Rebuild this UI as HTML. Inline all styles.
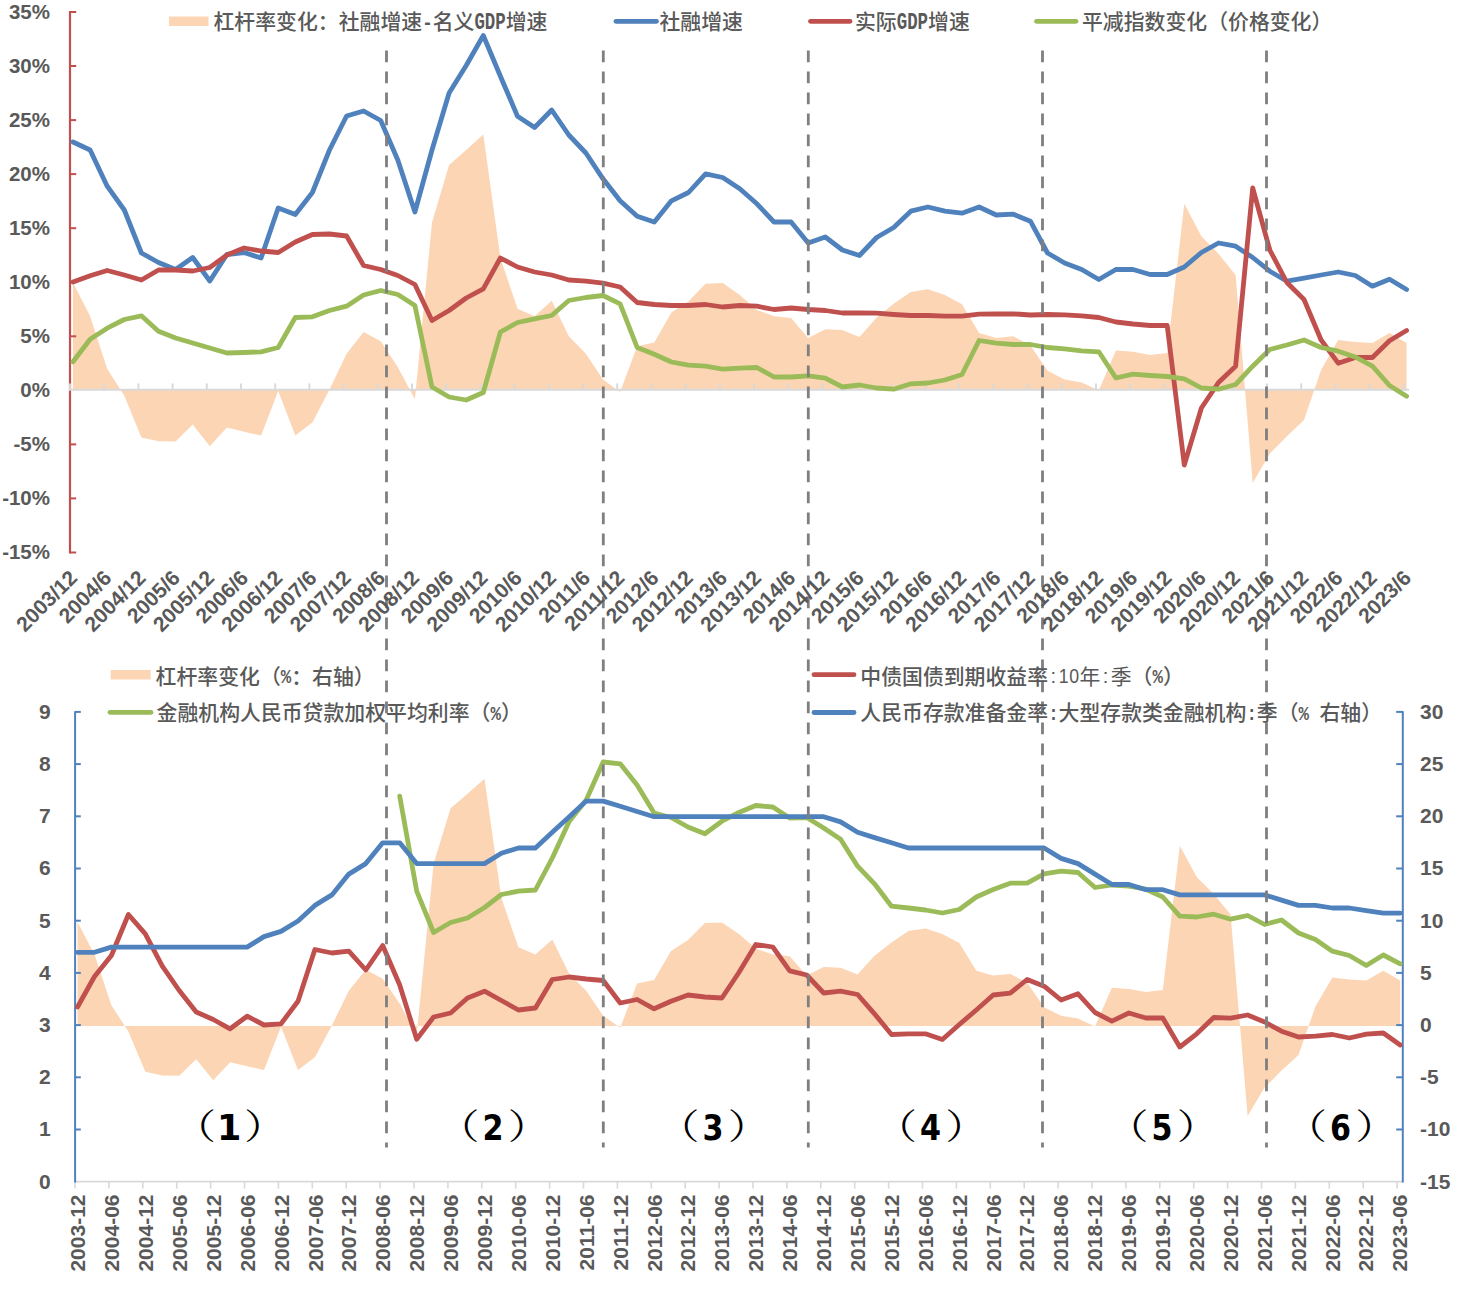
<!DOCTYPE html><html><head><meta charset="utf-8"><title>chart</title><style>html,body{margin:0;padding:0;background:#fff}svg{display:block}.n{font-family:"Liberation Sans",sans-serif;font-weight:bold;fill:#595959}.c{font-family:"Noto Sans CJK SC","WenQuanYi Zen Hei",sans-serif;font-weight:500;fill:#595959;font-size:20.87px}.h{font-family:"Liberation Mono",monospace;font-weight:bold;fill:#595959;font-size:24px}.q{font-family:"Liberation Mono",monospace;font-weight:bold;fill:#595959;font-size:19.5px}.g{font-family:"Liberation Sans",sans-serif;font-weight:400;fill:#595959;font-size:20px}.cr{font-family:"Noto Sans CJK SC","WenQuanYi Zen Hei",sans-serif;font-weight:400;fill:#595959;font-size:20.87px}.p{font-family:"Noto Serif CJK SC",serif;font-weight:400;fill:#000}.d{font-family:"DejaVu Sans",sans-serif;font-weight:bold;fill:#000}</style></head><body>
<svg width="1459" height="1296" viewBox="0 0 1459 1296">
<rect width="1459" height="1296" fill="#fff"/>
<polygon points="73.0,389.4 73.0,282.5 90.1,316.2 107.2,368.8 124.3,395.8 141.4,437.5 158.5,441.2 175.6,441.5 192.7,424.5 209.8,446.2 226.9,427.5 244.0,431.8 261.1,435.5 278.2,391.0 295.3,435.5 312.4,422.5 329.5,389.5 346.6,353.8 363.6,332.0 380.7,341.2 397.8,367.0 414.9,399.2 432.0,222.5 449.1,165.0 466.2,150.0 483.3,134.5 500.4,258.0 517.5,308.8 534.6,316.2 551.7,300.8 568.8,336.2 585.9,353.8 603.0,379.5 620.1,392.0 637.2,346.2 654.3,342.5 671.4,312.5 688.5,301.2 705.6,283.8 722.7,283.0 739.8,295.0 756.9,310.0 774.0,316.2 791.1,318.0 808.2,338.0 825.3,329.2 842.4,330.0 859.5,337.0 876.6,317.5 893.7,303.8 910.8,292.0 927.9,289.2 944.9,295.0 962.0,304.2 979.1,333.0 996.2,338.0 1013.3,336.2 1030.4,345.5 1047.5,370.8 1064.6,379.5 1081.7,382.5 1098.8,390.5 1115.9,350.5 1133.0,351.8 1150.1,355.0 1167.2,353.0 1184.3,203.8 1201.4,236.2 1218.5,253.8 1235.6,275.0 1252.7,483.0 1269.8,453.8 1286.9,436.2 1304.0,420.0 1321.1,370.0 1338.2,340.0 1355.3,342.0 1372.4,343.0 1389.5,333.0 1406.6,343.0 1406.6,389.4" fill="#fcd5b5"/>
<line x1="70" y1="11" x2="70" y2="553.6" stroke="#c0504d" stroke-width="2.2"/>
<line x1="70" y1="12.0" x2="76.2" y2="12.0" stroke="#c0504d" stroke-width="2"/>
<line x1="70" y1="66.0" x2="76.2" y2="66.0" stroke="#c0504d" stroke-width="2"/>
<line x1="70" y1="120.1" x2="76.2" y2="120.1" stroke="#c0504d" stroke-width="2"/>
<line x1="70" y1="174.1" x2="76.2" y2="174.1" stroke="#c0504d" stroke-width="2"/>
<line x1="70" y1="228.2" x2="76.2" y2="228.2" stroke="#c0504d" stroke-width="2"/>
<line x1="70" y1="282.2" x2="76.2" y2="282.2" stroke="#c0504d" stroke-width="2"/>
<line x1="70" y1="336.3" x2="76.2" y2="336.3" stroke="#c0504d" stroke-width="2"/>
<line x1="70" y1="444.4" x2="76.2" y2="444.4" stroke="#c0504d" stroke-width="2"/>
<line x1="70" y1="498.4" x2="76.2" y2="498.4" stroke="#c0504d" stroke-width="2"/>
<line x1="70" y1="552.5" x2="76.2" y2="552.5" stroke="#c0504d" stroke-width="2"/>
<line x1="68.9" y1="389.8" x2="1409" y2="389.8" stroke="#d9d9d9" stroke-width="2.1"/>
<line x1="70.0" y1="383.4" x2="70.0" y2="389.4" stroke="#d9d9d9" stroke-width="1.9"/>
<line x1="104.2" y1="383.4" x2="104.2" y2="389.4" stroke="#d9d9d9" stroke-width="1.9"/>
<line x1="138.4" y1="383.4" x2="138.4" y2="389.4" stroke="#d9d9d9" stroke-width="1.9"/>
<line x1="172.6" y1="383.4" x2="172.6" y2="389.4" stroke="#d9d9d9" stroke-width="1.9"/>
<line x1="206.8" y1="383.4" x2="206.8" y2="389.4" stroke="#d9d9d9" stroke-width="1.9"/>
<line x1="241.0" y1="383.4" x2="241.0" y2="389.4" stroke="#d9d9d9" stroke-width="1.9"/>
<line x1="275.2" y1="383.4" x2="275.2" y2="389.4" stroke="#d9d9d9" stroke-width="1.9"/>
<line x1="309.4" y1="383.4" x2="309.4" y2="389.4" stroke="#d9d9d9" stroke-width="1.9"/>
<line x1="343.6" y1="383.4" x2="343.6" y2="389.4" stroke="#d9d9d9" stroke-width="1.9"/>
<line x1="377.8" y1="383.4" x2="377.8" y2="389.4" stroke="#d9d9d9" stroke-width="1.9"/>
<line x1="412.0" y1="383.4" x2="412.0" y2="389.4" stroke="#d9d9d9" stroke-width="1.9"/>
<line x1="446.2" y1="383.4" x2="446.2" y2="389.4" stroke="#d9d9d9" stroke-width="1.9"/>
<line x1="480.4" y1="383.4" x2="480.4" y2="389.4" stroke="#d9d9d9" stroke-width="1.9"/>
<line x1="514.6" y1="383.4" x2="514.6" y2="389.4" stroke="#d9d9d9" stroke-width="1.9"/>
<line x1="548.8" y1="383.4" x2="548.8" y2="389.4" stroke="#d9d9d9" stroke-width="1.9"/>
<line x1="583.0" y1="383.4" x2="583.0" y2="389.4" stroke="#d9d9d9" stroke-width="1.9"/>
<line x1="617.2" y1="383.4" x2="617.2" y2="389.4" stroke="#d9d9d9" stroke-width="1.9"/>
<line x1="651.4" y1="383.4" x2="651.4" y2="389.4" stroke="#d9d9d9" stroke-width="1.9"/>
<line x1="685.6" y1="383.4" x2="685.6" y2="389.4" stroke="#d9d9d9" stroke-width="1.9"/>
<line x1="719.8" y1="383.4" x2="719.8" y2="389.4" stroke="#d9d9d9" stroke-width="1.9"/>
<line x1="754.0" y1="383.4" x2="754.0" y2="389.4" stroke="#d9d9d9" stroke-width="1.9"/>
<line x1="788.2" y1="383.4" x2="788.2" y2="389.4" stroke="#d9d9d9" stroke-width="1.9"/>
<line x1="822.4" y1="383.4" x2="822.4" y2="389.4" stroke="#d9d9d9" stroke-width="1.9"/>
<line x1="856.6" y1="383.4" x2="856.6" y2="389.4" stroke="#d9d9d9" stroke-width="1.9"/>
<line x1="890.8" y1="383.4" x2="890.8" y2="389.4" stroke="#d9d9d9" stroke-width="1.9"/>
<line x1="925.0" y1="383.4" x2="925.0" y2="389.4" stroke="#d9d9d9" stroke-width="1.9"/>
<line x1="959.2" y1="383.4" x2="959.2" y2="389.4" stroke="#d9d9d9" stroke-width="1.9"/>
<line x1="993.4" y1="383.4" x2="993.4" y2="389.4" stroke="#d9d9d9" stroke-width="1.9"/>
<line x1="1027.6" y1="383.4" x2="1027.6" y2="389.4" stroke="#d9d9d9" stroke-width="1.9"/>
<line x1="1061.8" y1="383.4" x2="1061.8" y2="389.4" stroke="#d9d9d9" stroke-width="1.9"/>
<line x1="1096.0" y1="383.4" x2="1096.0" y2="389.4" stroke="#d9d9d9" stroke-width="1.9"/>
<line x1="1130.2" y1="383.4" x2="1130.2" y2="389.4" stroke="#d9d9d9" stroke-width="1.9"/>
<line x1="1164.4" y1="383.4" x2="1164.4" y2="389.4" stroke="#d9d9d9" stroke-width="1.9"/>
<line x1="1198.6" y1="383.4" x2="1198.6" y2="389.4" stroke="#d9d9d9" stroke-width="1.9"/>
<line x1="1232.8" y1="383.4" x2="1232.8" y2="389.4" stroke="#d9d9d9" stroke-width="1.9"/>
<line x1="1267.0" y1="383.4" x2="1267.0" y2="389.4" stroke="#d9d9d9" stroke-width="1.9"/>
<line x1="1301.2" y1="383.4" x2="1301.2" y2="389.4" stroke="#d9d9d9" stroke-width="1.9"/>
<line x1="1335.4" y1="383.4" x2="1335.4" y2="389.4" stroke="#d9d9d9" stroke-width="1.9"/>
<line x1="1369.6" y1="383.4" x2="1369.6" y2="389.4" stroke="#d9d9d9" stroke-width="1.9"/>
<line x1="1403.8" y1="383.4" x2="1403.8" y2="389.4" stroke="#d9d9d9" stroke-width="1.9"/>
<polyline points="73.0,142.0 90.1,150.0 107.2,186.2 124.3,210.0 141.4,253.0 158.5,262.5 175.6,269.5 192.7,257.5 209.8,281.0 226.9,254.5 244.0,252.5 261.1,258.0 278.2,208.0 295.3,214.5 312.4,192.5 329.5,150.0 346.6,116.0 363.6,111.0 380.7,120.5 397.8,160.0 414.9,212.0 432.0,150.0 449.1,93.0 466.2,65.5 483.3,35.5 500.4,76.2 517.5,116.2 534.6,127.5 551.7,110.0 568.8,135.0 585.9,153.0 603.0,178.8 620.1,200.8 637.2,216.2 654.3,222.0 671.4,200.8 688.5,192.5 705.6,173.8 722.7,177.5 739.8,188.8 756.9,203.8 774.0,222.0 791.1,222.0 808.2,243.0 825.3,237.0 842.4,250.0 859.5,255.5 876.6,237.5 893.7,227.5 910.8,211.2 927.9,207.0 944.9,211.2 962.0,213.2 979.1,207.0 996.2,215.0 1013.3,214.2 1030.4,221.2 1047.5,253.0 1064.6,263.0 1081.7,269.5 1098.8,279.5 1115.9,269.5 1133.0,269.5 1150.1,274.5 1167.2,274.5 1184.3,267.0 1201.4,252.5 1218.5,243.0 1235.6,246.2 1252.7,257.5 1269.8,271.2 1286.9,281.2 1304.0,278.2 1321.1,275.0 1338.2,272.0 1355.3,275.5 1372.4,286.2 1389.5,279.2 1406.6,289.5" fill="none" stroke="#4f81bd" stroke-width="4.8" stroke-linejoin="round" stroke-linecap="round"/>
<polyline points="73.0,282.0 90.1,275.8 107.2,270.5 124.3,275.0 141.4,280.0 158.5,270.0 175.6,270.0 192.7,271.0 209.8,267.5 226.9,255.0 244.0,248.0 261.1,251.0 278.2,252.5 295.3,242.0 312.4,234.5 329.5,234.0 346.6,236.0 363.6,265.5 380.7,269.5 397.8,275.5 414.9,284.5 432.0,320.5 449.1,310.5 466.2,298.0 483.3,288.8 500.4,258.0 517.5,267.0 534.6,272.0 551.7,275.0 568.8,280.0 585.9,281.2 603.0,283.2 620.1,287.0 637.2,302.5 654.3,304.5 671.4,305.5 688.5,305.5 705.6,304.5 722.7,307.0 739.8,305.5 756.9,306.2 774.0,309.5 791.1,308.0 808.2,309.5 825.3,310.5 842.4,313.0 859.5,313.0 876.6,313.2 893.7,314.5 910.8,315.5 927.9,315.5 944.9,316.2 962.0,316.2 979.1,314.2 996.2,314.0 1013.3,313.8 1030.4,315.0 1047.5,314.5 1064.6,314.8 1081.7,315.8 1098.8,317.5 1115.9,322.0 1133.0,324.0 1150.1,325.5 1167.2,325.5 1184.3,465.0 1201.4,408.0 1218.5,382.5 1235.6,366.2 1252.7,188.0 1269.8,250.0 1286.9,282.5 1304.0,299.5 1321.1,340.0 1338.2,363.2 1355.3,357.5 1372.4,357.5 1389.5,340.8 1406.6,330.5" fill="none" stroke="#c0504d" stroke-width="4.8" stroke-linejoin="round" stroke-linecap="round"/>
<polyline points="73.0,361.8 90.1,339.2 107.2,328.2 124.3,319.5 141.4,315.8 158.5,331.2 175.6,338.0 192.7,343.0 209.8,348.0 226.9,353.0 244.0,352.5 261.1,351.8 278.2,347.5 295.3,317.5 312.4,316.8 329.5,310.5 346.6,306.2 363.6,295.0 380.7,290.5 397.8,294.5 414.9,305.5 432.0,387.0 449.1,397.0 466.2,400.0 483.3,392.5 500.4,332.0 517.5,322.5 534.6,318.8 551.7,315.5 568.8,300.5 585.9,297.5 603.0,295.5 620.1,303.8 637.2,347.5 654.3,354.2 671.4,362.0 688.5,365.2 705.6,366.2 722.7,369.2 739.8,368.2 756.9,367.5 774.0,377.0 791.1,377.0 808.2,375.8 825.3,378.2 842.4,387.0 859.5,385.0 876.6,388.0 893.7,389.2 910.8,383.8 927.9,383.0 944.9,380.0 962.0,374.5 979.1,340.5 996.2,343.2 1013.3,344.5 1030.4,344.5 1047.5,347.5 1064.6,348.8 1081.7,350.8 1098.8,351.8 1115.9,378.0 1133.0,374.2 1150.1,375.5 1167.2,376.5 1184.3,378.8 1201.4,388.0 1218.5,389.2 1235.6,384.5 1252.7,366.2 1269.8,349.5 1286.9,345.0 1304.0,340.0 1321.1,347.5 1338.2,351.2 1355.3,357.0 1372.4,366.2 1389.5,385.5 1406.6,396.2" fill="none" stroke="#9bbb59" stroke-width="4.8" stroke-linejoin="round" stroke-linecap="round"/>
<rect x="169" y="16.5" width="39.5" height="9.5" fill="#fcd5b5"/>
<line x1="616" y1="21.3" x2="656.5" y2="21.3" stroke="#4f81bd" stroke-width="4.8" stroke-linecap="round"/>
<line x1="810.5" y1="21.3" x2="850" y2="21.3" stroke="#c0504d" stroke-width="4.8" stroke-linecap="round"/>
<line x1="1036.5" y1="21.3" x2="1076" y2="21.3" stroke="#9bbb59" stroke-width="4.8" stroke-linecap="round"/>
<polygon points="77.5,1025.9 77.5,921.9 94.5,954.5 111.4,1005.3 128.4,1031.5 145.3,1071.8 162.3,1075.5 179.2,1075.7 196.2,1059.3 213.2,1080.3 230.1,1062.2 247.1,1066.3 264.0,1069.9 281.0,1026.8 298.0,1069.9 314.9,1057.3 331.9,1025.4 348.8,990.8 365.8,969.8 382.7,978.7 399.7,1003.6 416.7,1034.8 433.6,863.8 450.6,808.2 467.5,793.7 484.5,778.7 501.4,898.2 518.4,947.3 535.4,954.5 552.3,939.5 569.3,973.9 586.2,990.8 603.2,1015.7 620.2,1027.8 637.1,983.6 654.1,979.9 671.0,950.9 688.0,940.0 704.9,923.1 721.9,922.4 738.9,934.0 755.8,948.5 772.8,954.5 789.7,956.2 806.7,975.6 823.7,967.1 840.6,967.8 857.6,974.6 874.5,955.7 891.5,942.4 908.4,931.1 925.4,928.4 942.4,934.0 959.3,942.9 976.3,970.7 993.2,975.6 1010.2,973.9 1027.1,982.8 1044.1,1007.3 1061.1,1015.7 1078.0,1018.6 1095.0,1026.4 1111.9,987.7 1128.9,988.9 1145.9,992.0 1162.8,990.1 1179.8,845.7 1196.7,877.1 1213.7,894.1 1230.6,914.6 1247.6,1115.9 1264.6,1087.6 1281.5,1070.6 1298.5,1054.9 1315.4,1006.5 1332.4,977.5 1349.3,979.4 1366.3,980.4 1383.3,970.7 1400.2,980.4 1400.2,1025.9" fill="#fcd5b5"/>
<line x1="75" y1="1181.7" x2="1403" y2="1181.7" stroke="#d9d9d9" stroke-width="1.7"/>
<line x1="75.0" y1="1181.5" x2="75.0" y2="1188.6" stroke="#d9d9d9" stroke-width="1.6"/>
<line x1="108.9" y1="1181.5" x2="108.9" y2="1188.6" stroke="#d9d9d9" stroke-width="1.6"/>
<line x1="142.8" y1="1181.5" x2="142.8" y2="1188.6" stroke="#d9d9d9" stroke-width="1.6"/>
<line x1="176.7" y1="1181.5" x2="176.7" y2="1188.6" stroke="#d9d9d9" stroke-width="1.6"/>
<line x1="210.6" y1="1181.5" x2="210.6" y2="1188.6" stroke="#d9d9d9" stroke-width="1.6"/>
<line x1="244.5" y1="1181.5" x2="244.5" y2="1188.6" stroke="#d9d9d9" stroke-width="1.6"/>
<line x1="278.4" y1="1181.5" x2="278.4" y2="1188.6" stroke="#d9d9d9" stroke-width="1.6"/>
<line x1="312.3" y1="1181.5" x2="312.3" y2="1188.6" stroke="#d9d9d9" stroke-width="1.6"/>
<line x1="346.2" y1="1181.5" x2="346.2" y2="1188.6" stroke="#d9d9d9" stroke-width="1.6"/>
<line x1="380.1" y1="1181.5" x2="380.1" y2="1188.6" stroke="#d9d9d9" stroke-width="1.6"/>
<line x1="414.0" y1="1181.5" x2="414.0" y2="1188.6" stroke="#d9d9d9" stroke-width="1.6"/>
<line x1="447.9" y1="1181.5" x2="447.9" y2="1188.6" stroke="#d9d9d9" stroke-width="1.6"/>
<line x1="481.8" y1="1181.5" x2="481.8" y2="1188.6" stroke="#d9d9d9" stroke-width="1.6"/>
<line x1="515.7" y1="1181.5" x2="515.7" y2="1188.6" stroke="#d9d9d9" stroke-width="1.6"/>
<line x1="549.6" y1="1181.5" x2="549.6" y2="1188.6" stroke="#d9d9d9" stroke-width="1.6"/>
<line x1="583.5" y1="1181.5" x2="583.5" y2="1188.6" stroke="#d9d9d9" stroke-width="1.6"/>
<line x1="617.4" y1="1181.5" x2="617.4" y2="1188.6" stroke="#d9d9d9" stroke-width="1.6"/>
<line x1="651.3" y1="1181.5" x2="651.3" y2="1188.6" stroke="#d9d9d9" stroke-width="1.6"/>
<line x1="685.2" y1="1181.5" x2="685.2" y2="1188.6" stroke="#d9d9d9" stroke-width="1.6"/>
<line x1="719.1" y1="1181.5" x2="719.1" y2="1188.6" stroke="#d9d9d9" stroke-width="1.6"/>
<line x1="753.0" y1="1181.5" x2="753.0" y2="1188.6" stroke="#d9d9d9" stroke-width="1.6"/>
<line x1="786.9" y1="1181.5" x2="786.9" y2="1188.6" stroke="#d9d9d9" stroke-width="1.6"/>
<line x1="820.8" y1="1181.5" x2="820.8" y2="1188.6" stroke="#d9d9d9" stroke-width="1.6"/>
<line x1="854.7" y1="1181.5" x2="854.7" y2="1188.6" stroke="#d9d9d9" stroke-width="1.6"/>
<line x1="888.6" y1="1181.5" x2="888.6" y2="1188.6" stroke="#d9d9d9" stroke-width="1.6"/>
<line x1="922.5" y1="1181.5" x2="922.5" y2="1188.6" stroke="#d9d9d9" stroke-width="1.6"/>
<line x1="956.4" y1="1181.5" x2="956.4" y2="1188.6" stroke="#d9d9d9" stroke-width="1.6"/>
<line x1="990.3" y1="1181.5" x2="990.3" y2="1188.6" stroke="#d9d9d9" stroke-width="1.6"/>
<line x1="1024.2" y1="1181.5" x2="1024.2" y2="1188.6" stroke="#d9d9d9" stroke-width="1.6"/>
<line x1="1058.1" y1="1181.5" x2="1058.1" y2="1188.6" stroke="#d9d9d9" stroke-width="1.6"/>
<line x1="1092.0" y1="1181.5" x2="1092.0" y2="1188.6" stroke="#d9d9d9" stroke-width="1.6"/>
<line x1="1125.9" y1="1181.5" x2="1125.9" y2="1188.6" stroke="#d9d9d9" stroke-width="1.6"/>
<line x1="1159.8" y1="1181.5" x2="1159.8" y2="1188.6" stroke="#d9d9d9" stroke-width="1.6"/>
<line x1="1193.7" y1="1181.5" x2="1193.7" y2="1188.6" stroke="#d9d9d9" stroke-width="1.6"/>
<line x1="1227.6" y1="1181.5" x2="1227.6" y2="1188.6" stroke="#d9d9d9" stroke-width="1.6"/>
<line x1="1261.5" y1="1181.5" x2="1261.5" y2="1188.6" stroke="#d9d9d9" stroke-width="1.6"/>
<line x1="1295.4" y1="1181.5" x2="1295.4" y2="1188.6" stroke="#d9d9d9" stroke-width="1.6"/>
<line x1="1329.3" y1="1181.5" x2="1329.3" y2="1188.6" stroke="#d9d9d9" stroke-width="1.6"/>
<line x1="1363.2" y1="1181.5" x2="1363.2" y2="1188.6" stroke="#d9d9d9" stroke-width="1.6"/>
<line x1="1397.1" y1="1181.5" x2="1397.1" y2="1188.6" stroke="#d9d9d9" stroke-width="1.6"/>
<line x1="75.1" y1="711.3" x2="75.1" y2="1182.4" stroke="#4f81bd" stroke-width="2"/>
<line x1="1402.8" y1="711.3" x2="1402.8" y2="1182.4" stroke="#4f81bd" stroke-width="2"/>
<line x1="75" y1="711.9" x2="80.8" y2="711.9" stroke="#4f81bd" stroke-width="2"/>
<line x1="1396.2" y1="711.9" x2="1403" y2="711.9" stroke="#4f81bd" stroke-width="2"/>
<line x1="75" y1="764.1" x2="80.8" y2="764.1" stroke="#4f81bd" stroke-width="2"/>
<line x1="1396.2" y1="764.1" x2="1403" y2="764.1" stroke="#4f81bd" stroke-width="2"/>
<line x1="75" y1="816.3" x2="80.8" y2="816.3" stroke="#4f81bd" stroke-width="2"/>
<line x1="1396.2" y1="816.3" x2="1403" y2="816.3" stroke="#4f81bd" stroke-width="2"/>
<line x1="75" y1="868.5" x2="80.8" y2="868.5" stroke="#4f81bd" stroke-width="2"/>
<line x1="1396.2" y1="868.5" x2="1403" y2="868.5" stroke="#4f81bd" stroke-width="2"/>
<line x1="75" y1="920.7" x2="80.8" y2="920.7" stroke="#4f81bd" stroke-width="2"/>
<line x1="1396.2" y1="920.7" x2="1403" y2="920.7" stroke="#4f81bd" stroke-width="2"/>
<line x1="75" y1="972.9" x2="80.8" y2="972.9" stroke="#4f81bd" stroke-width="2"/>
<line x1="1396.2" y1="972.9" x2="1403" y2="972.9" stroke="#4f81bd" stroke-width="2"/>
<line x1="75" y1="1025.1" x2="80.8" y2="1025.1" stroke="#4f81bd" stroke-width="2"/>
<line x1="1396.2" y1="1025.1" x2="1403" y2="1025.1" stroke="#4f81bd" stroke-width="2"/>
<line x1="75" y1="1077.3" x2="80.8" y2="1077.3" stroke="#4f81bd" stroke-width="2"/>
<line x1="1396.2" y1="1077.3" x2="1403" y2="1077.3" stroke="#4f81bd" stroke-width="2"/>
<line x1="75" y1="1129.5" x2="80.8" y2="1129.5" stroke="#4f81bd" stroke-width="2"/>
<line x1="1396.2" y1="1129.5" x2="1403" y2="1129.5" stroke="#4f81bd" stroke-width="2"/>
<polyline points="77.5,1007.0 94.5,976.5 111.4,955.5 128.4,914.5 145.3,933.8 162.3,966.2 179.2,990.5 196.2,1012.0 213.2,1019.5 230.1,1028.8 247.1,1016.2 264.0,1025.0 281.0,1023.8 298.0,1001.2 314.9,949.5 331.9,953.0 348.8,951.2 365.8,970.0 382.7,945.5 399.7,985.0 416.7,1039.2 433.6,1017.0 450.6,1013.0 467.5,998.0 484.5,991.2 501.4,1000.5 518.4,1010.0 535.4,1008.0 552.3,979.5 569.3,977.0 586.2,979.0 603.2,980.5 620.2,1003.0 637.1,999.5 654.1,1008.8 671.0,1001.2 688.0,995.0 704.9,997.0 721.9,998.0 738.9,972.5 755.8,944.5 772.8,947.0 789.7,970.8 806.7,975.0 823.7,993.0 840.6,991.2 857.6,994.5 874.5,1013.8 891.5,1034.5 908.4,1033.8 925.4,1033.8 942.4,1039.5 959.3,1024.5 976.3,1010.0 993.2,995.0 1010.2,993.2 1027.1,979.5 1044.1,986.2 1061.1,1000.0 1078.0,993.8 1095.0,1012.5 1111.9,1021.2 1128.9,1013.0 1145.9,1018.0 1162.8,1018.0 1179.8,1047.0 1196.7,1033.8 1213.7,1017.5 1230.6,1018.2 1247.6,1015.0 1264.6,1022.0 1281.5,1031.2 1298.5,1037.0 1315.4,1036.2 1332.4,1034.5 1349.3,1038.0 1366.3,1034.2 1383.3,1033.0 1400.2,1045.0" fill="none" stroke="#c0504d" stroke-width="4.8" stroke-linejoin="round" stroke-linecap="round"/>
<polyline points="399.7,796.2 416.7,891.2 433.6,932.5 450.6,922.5 467.5,918.0 484.5,907.5 501.4,894.5 518.4,891.2 535.4,890.0 552.3,858.0 569.3,821.2 586.2,800.0 603.2,762.0 620.2,763.8 637.1,785.0 654.1,813.0 671.0,817.5 688.0,827.0 704.9,833.8 721.9,821.2 738.9,812.5 755.8,805.5 772.8,807.0 789.7,818.0 806.7,817.5 823.7,828.0 840.6,839.2 857.6,866.2 874.5,883.8 891.5,906.2 908.4,908.0 925.4,910.0 942.4,913.0 959.3,909.5 976.3,897.0 993.2,889.5 1010.2,883.2 1027.1,883.2 1044.1,873.8 1061.1,871.2 1078.0,872.5 1095.0,887.5 1111.9,885.0 1128.9,886.2 1145.9,889.2 1162.8,897.0 1179.8,916.2 1196.7,917.0 1213.7,914.2 1230.6,919.2 1247.6,915.5 1264.6,924.5 1281.5,920.0 1298.5,933.0 1315.4,939.5 1332.4,951.2 1349.3,955.5 1366.3,965.5 1383.3,955.0 1400.2,963.8" fill="none" stroke="#9bbb59" stroke-width="4.8" stroke-linejoin="round" stroke-linecap="round"/>
<polyline points="77.5,952.3 94.5,952.3 111.4,947.1 128.4,947.1 145.3,947.1 162.3,947.1 179.2,947.1 196.2,947.1 213.2,947.1 230.1,947.1 247.1,947.1 264.0,936.6 281.0,931.4 298.0,921.0 314.9,905.4 331.9,894.9 348.8,874.1 365.8,863.6 382.7,842.8 399.7,842.8 416.7,863.6 433.6,863.6 450.6,863.6 467.5,863.6 484.5,863.6 501.4,853.2 518.4,848.0 535.4,848.0 552.3,832.3 569.3,816.7 586.2,801.1 603.2,801.1 620.2,806.3 637.1,811.5 654.1,816.7 671.0,816.7 688.0,816.7 704.9,816.7 721.9,816.7 738.9,816.7 755.8,816.7 772.8,816.7 789.7,816.7 806.7,816.7 823.7,816.7 840.6,821.9 857.6,832.3 874.5,837.6 891.5,842.8 908.4,848.0 925.4,848.0 942.4,848.0 959.3,848.0 976.3,848.0 993.2,848.0 1010.2,848.0 1027.1,848.0 1044.1,848.0 1061.1,858.4 1078.0,863.6 1095.0,874.1 1111.9,884.5 1128.9,884.5 1145.9,889.7 1162.8,889.7 1179.8,894.9 1196.7,894.9 1213.7,894.9 1230.6,894.9 1247.6,894.9 1264.6,894.9 1281.5,900.1 1298.5,905.4 1315.4,905.4 1332.4,908.0 1349.3,908.0 1366.3,910.6 1383.3,913.2 1400.2,913.2" fill="none" stroke="#4f81bd" stroke-width="4.8" stroke-linejoin="round" stroke-linecap="round"/>
<rect x="110.7" y="670" width="40" height="9.5" fill="#fcd5b5"/>
<line x1="110" y1="712.3" x2="151" y2="712.3" stroke="#9bbb59" stroke-width="4.8" stroke-linecap="round"/>
<line x1="814" y1="674.7" x2="854" y2="674.7" stroke="#c0504d" stroke-width="4.8" stroke-linecap="round"/>
<line x1="814" y1="712.5" x2="854" y2="712.5" stroke="#4f81bd" stroke-width="4.8" stroke-linecap="round"/>
<line x1="386.5" y1="50.5" x2="386.5" y2="1147.5" stroke="#7f7f7f" stroke-width="2.8" stroke-dasharray="11.7 9.3"/>
<line x1="603.3" y1="50.5" x2="603.3" y2="1147.5" stroke="#7f7f7f" stroke-width="2.8" stroke-dasharray="11.7 9.3"/>
<line x1="808.3" y1="50.5" x2="808.3" y2="1147.5" stroke="#7f7f7f" stroke-width="2.8" stroke-dasharray="11.7 9.3"/>
<line x1="1042.5" y1="50.5" x2="1042.5" y2="1147.5" stroke="#7f7f7f" stroke-width="2.8" stroke-dasharray="11.7 9.3"/>
<line x1="1266.5" y1="50.5" x2="1266.5" y2="1147.5" stroke="#7f7f7f" stroke-width="2.8" stroke-dasharray="11.7 9.3"/>
<text class="n" x="50" y="18.8" font-size="20.5" text-anchor="end">35%</text>
<text class="n" x="50" y="72.8" font-size="20.5" text-anchor="end">30%</text>
<text class="n" x="50" y="126.9" font-size="20.5" text-anchor="end">25%</text>
<text class="n" x="50" y="180.9" font-size="20.5" text-anchor="end">20%</text>
<text class="n" x="50" y="235.0" font-size="20.5" text-anchor="end">15%</text>
<text class="n" x="50" y="289.1" font-size="20.5" text-anchor="end">10%</text>
<text class="n" x="50" y="343.1" font-size="20.5" text-anchor="end">5%</text>
<text class="n" x="50" y="397.1" font-size="20.5" text-anchor="end">0%</text>
<text class="n" x="50" y="451.2" font-size="20.5" text-anchor="end">-5%</text>
<text class="n" x="50" y="505.2" font-size="20.5" text-anchor="end">-10%</text>
<text class="n" x="50" y="559.3" font-size="20.5" text-anchor="end">-15%</text>
<text class="n" font-size="21" text-anchor="end" transform="translate(78.6,579.2) rotate(-45)">2003/12</text>
<text class="n" font-size="21" text-anchor="end" transform="translate(112.8,579.2) rotate(-45)">2004/6</text>
<text class="n" font-size="21" text-anchor="end" transform="translate(147.0,579.2) rotate(-45)">2004/12</text>
<text class="n" font-size="21" text-anchor="end" transform="translate(181.2,579.2) rotate(-45)">2005/6</text>
<text class="n" font-size="21" text-anchor="end" transform="translate(215.4,579.2) rotate(-45)">2005/12</text>
<text class="n" font-size="21" text-anchor="end" transform="translate(249.6,579.2) rotate(-45)">2006/6</text>
<text class="n" font-size="21" text-anchor="end" transform="translate(283.8,579.2) rotate(-45)">2006/12</text>
<text class="n" font-size="21" text-anchor="end" transform="translate(318.0,579.2) rotate(-45)">2007/6</text>
<text class="n" font-size="21" text-anchor="end" transform="translate(352.2,579.2) rotate(-45)">2007/12</text>
<text class="n" font-size="21" text-anchor="end" transform="translate(386.4,579.2) rotate(-45)">2008/6</text>
<text class="n" font-size="21" text-anchor="end" transform="translate(420.6,579.2) rotate(-45)">2008/12</text>
<text class="n" font-size="21" text-anchor="end" transform="translate(454.8,579.2) rotate(-45)">2009/6</text>
<text class="n" font-size="21" text-anchor="end" transform="translate(489.0,579.2) rotate(-45)">2009/12</text>
<text class="n" font-size="21" text-anchor="end" transform="translate(523.2,579.2) rotate(-45)">2010/6</text>
<text class="n" font-size="21" text-anchor="end" transform="translate(557.4,579.2) rotate(-45)">2010/12</text>
<text class="n" font-size="21" text-anchor="end" transform="translate(591.6,579.2) rotate(-45)">2011/6</text>
<text class="n" font-size="21" text-anchor="end" transform="translate(625.8,579.2) rotate(-45)">2011/12</text>
<text class="n" font-size="21" text-anchor="end" transform="translate(660.0,579.2) rotate(-45)">2012/6</text>
<text class="n" font-size="21" text-anchor="end" transform="translate(694.2,579.2) rotate(-45)">2012/12</text>
<text class="n" font-size="21" text-anchor="end" transform="translate(728.4,579.2) rotate(-45)">2013/6</text>
<text class="n" font-size="21" text-anchor="end" transform="translate(762.6,579.2) rotate(-45)">2013/12</text>
<text class="n" font-size="21" text-anchor="end" transform="translate(796.8,579.2) rotate(-45)">2014/6</text>
<text class="n" font-size="21" text-anchor="end" transform="translate(831.0,579.2) rotate(-45)">2014/12</text>
<text class="n" font-size="21" text-anchor="end" transform="translate(865.2,579.2) rotate(-45)">2015/6</text>
<text class="n" font-size="21" text-anchor="end" transform="translate(899.4,579.2) rotate(-45)">2015/12</text>
<text class="n" font-size="21" text-anchor="end" transform="translate(933.6,579.2) rotate(-45)">2016/6</text>
<text class="n" font-size="21" text-anchor="end" transform="translate(967.8,579.2) rotate(-45)">2016/12</text>
<text class="n" font-size="21" text-anchor="end" transform="translate(1002.0,579.2) rotate(-45)">2017/6</text>
<text class="n" font-size="21" text-anchor="end" transform="translate(1036.2,579.2) rotate(-45)">2017/12</text>
<text class="n" font-size="21" text-anchor="end" transform="translate(1070.4,579.2) rotate(-45)">2018/6</text>
<text class="n" font-size="21" text-anchor="end" transform="translate(1104.6,579.2) rotate(-45)">2018/12</text>
<text class="n" font-size="21" text-anchor="end" transform="translate(1138.8,579.2) rotate(-45)">2019/6</text>
<text class="n" font-size="21" text-anchor="end" transform="translate(1173.0,579.2) rotate(-45)">2019/12</text>
<text class="n" font-size="21" text-anchor="end" transform="translate(1207.2,579.2) rotate(-45)">2020/6</text>
<text class="n" font-size="21" text-anchor="end" transform="translate(1241.4,579.2) rotate(-45)">2020/12</text>
<text class="n" font-size="21" text-anchor="end" transform="translate(1275.6,579.2) rotate(-45)">2021/6</text>
<text class="n" font-size="21" text-anchor="end" transform="translate(1309.8,579.2) rotate(-45)">2021/12</text>
<text class="n" font-size="21" text-anchor="end" transform="translate(1344.0,579.2) rotate(-45)">2022/6</text>
<text class="n" font-size="21" text-anchor="end" transform="translate(1378.2,579.2) rotate(-45)">2022/12</text>
<text class="n" font-size="21" text-anchor="end" transform="translate(1412.4,579.2) rotate(-45)">2023/6</text>
<text xml:space="preserve"><tspan class="c" x="213.50" y="29.3">杠杆率变化：社融增速</tspan><tspan class="q" x="422.20" y="28.8" textLength="10.44" lengthAdjust="spacingAndGlyphs">-</tspan><tspan class="c" x="432.64" y="29.3">名义</tspan><tspan class="h" x="474.38" y="28.8" textLength="31.30" lengthAdjust="spacingAndGlyphs">GDP</tspan><tspan class="c" x="505.68" y="29.3">增速</tspan></text>
<text xml:space="preserve"><tspan class="c" x="659.50" y="29.3">社融增速</tspan></text>
<text xml:space="preserve"><tspan class="c" x="855.00" y="29.3">实际</tspan><tspan class="h" x="896.74" y="28.8" textLength="31.30" lengthAdjust="spacingAndGlyphs">GDP</tspan><tspan class="c" x="928.04" y="29.3">增速</tspan></text>
<text xml:space="preserve"><tspan class="c" x="1082.00" y="29.3">平减指数变化（价格变化）</tspan></text>
<text class="n" font-size="21" text-anchor="end" transform="translate(85.2,1194.5) rotate(-90)">2003-12</text>
<text class="n" font-size="21" text-anchor="end" transform="translate(119.1,1194.5) rotate(-90)">2004-06</text>
<text class="n" font-size="21" text-anchor="end" transform="translate(153.0,1194.5) rotate(-90)">2004-12</text>
<text class="n" font-size="21" text-anchor="end" transform="translate(186.9,1194.5) rotate(-90)">2005-06</text>
<text class="n" font-size="21" text-anchor="end" transform="translate(220.8,1194.5) rotate(-90)">2005-12</text>
<text class="n" font-size="21" text-anchor="end" transform="translate(254.7,1194.5) rotate(-90)">2006-06</text>
<text class="n" font-size="21" text-anchor="end" transform="translate(288.6,1194.5) rotate(-90)">2006-12</text>
<text class="n" font-size="21" text-anchor="end" transform="translate(322.5,1194.5) rotate(-90)">2007-06</text>
<text class="n" font-size="21" text-anchor="end" transform="translate(356.4,1194.5) rotate(-90)">2007-12</text>
<text class="n" font-size="21" text-anchor="end" transform="translate(390.3,1194.5) rotate(-90)">2008-06</text>
<text class="n" font-size="21" text-anchor="end" transform="translate(424.2,1194.5) rotate(-90)">2008-12</text>
<text class="n" font-size="21" text-anchor="end" transform="translate(458.1,1194.5) rotate(-90)">2009-06</text>
<text class="n" font-size="21" text-anchor="end" transform="translate(492.0,1194.5) rotate(-90)">2009-12</text>
<text class="n" font-size="21" text-anchor="end" transform="translate(525.9,1194.5) rotate(-90)">2010-06</text>
<text class="n" font-size="21" text-anchor="end" transform="translate(559.8,1194.5) rotate(-90)">2010-12</text>
<text class="n" font-size="21" text-anchor="end" transform="translate(593.7,1194.5) rotate(-90)">2011-06</text>
<text class="n" font-size="21" text-anchor="end" transform="translate(627.6,1194.5) rotate(-90)">2011-12</text>
<text class="n" font-size="21" text-anchor="end" transform="translate(661.5,1194.5) rotate(-90)">2012-06</text>
<text class="n" font-size="21" text-anchor="end" transform="translate(695.4,1194.5) rotate(-90)">2012-12</text>
<text class="n" font-size="21" text-anchor="end" transform="translate(729.3,1194.5) rotate(-90)">2013-06</text>
<text class="n" font-size="21" text-anchor="end" transform="translate(763.2,1194.5) rotate(-90)">2013-12</text>
<text class="n" font-size="21" text-anchor="end" transform="translate(797.1,1194.5) rotate(-90)">2014-06</text>
<text class="n" font-size="21" text-anchor="end" transform="translate(831.0,1194.5) rotate(-90)">2014-12</text>
<text class="n" font-size="21" text-anchor="end" transform="translate(864.9,1194.5) rotate(-90)">2015-06</text>
<text class="n" font-size="21" text-anchor="end" transform="translate(898.8,1194.5) rotate(-90)">2015-12</text>
<text class="n" font-size="21" text-anchor="end" transform="translate(932.7,1194.5) rotate(-90)">2016-06</text>
<text class="n" font-size="21" text-anchor="end" transform="translate(966.6,1194.5) rotate(-90)">2016-12</text>
<text class="n" font-size="21" text-anchor="end" transform="translate(1000.5,1194.5) rotate(-90)">2017-06</text>
<text class="n" font-size="21" text-anchor="end" transform="translate(1034.4,1194.5) rotate(-90)">2017-12</text>
<text class="n" font-size="21" text-anchor="end" transform="translate(1068.3,1194.5) rotate(-90)">2018-06</text>
<text class="n" font-size="21" text-anchor="end" transform="translate(1102.2,1194.5) rotate(-90)">2018-12</text>
<text class="n" font-size="21" text-anchor="end" transform="translate(1136.1,1194.5) rotate(-90)">2019-06</text>
<text class="n" font-size="21" text-anchor="end" transform="translate(1170.0,1194.5) rotate(-90)">2019-12</text>
<text class="n" font-size="21" text-anchor="end" transform="translate(1203.9,1194.5) rotate(-90)">2020-06</text>
<text class="n" font-size="21" text-anchor="end" transform="translate(1237.8,1194.5) rotate(-90)">2020-12</text>
<text class="n" font-size="21" text-anchor="end" transform="translate(1271.7,1194.5) rotate(-90)">2021-06</text>
<text class="n" font-size="21" text-anchor="end" transform="translate(1305.6,1194.5) rotate(-90)">2021-12</text>
<text class="n" font-size="21" text-anchor="end" transform="translate(1339.5,1194.5) rotate(-90)">2022-06</text>
<text class="n" font-size="21" text-anchor="end" transform="translate(1373.4,1194.5) rotate(-90)">2022-12</text>
<text class="n" font-size="21" text-anchor="end" transform="translate(1407.3,1194.5) rotate(-90)">2023-06</text>
<text class="n" x="50.6" y="718.7" font-size="21" text-anchor="end">9</text>
<text class="n" x="1420" y="718.7" font-size="21">30</text>
<text class="n" x="50.6" y="770.9" font-size="21" text-anchor="end">8</text>
<text class="n" x="1420" y="770.9" font-size="21">25</text>
<text class="n" x="50.6" y="823.1" font-size="21" text-anchor="end">7</text>
<text class="n" x="1420" y="823.1" font-size="21">20</text>
<text class="n" x="50.6" y="875.3" font-size="21" text-anchor="end">6</text>
<text class="n" x="1420" y="875.3" font-size="21">15</text>
<text class="n" x="50.6" y="927.5" font-size="21" text-anchor="end">5</text>
<text class="n" x="1420" y="927.5" font-size="21">10</text>
<text class="n" x="50.6" y="979.7" font-size="21" text-anchor="end">4</text>
<text class="n" x="1420" y="979.7" font-size="21">5</text>
<text class="n" x="50.6" y="1031.9" font-size="21" text-anchor="end">3</text>
<text class="n" x="1420" y="1031.9" font-size="21">0</text>
<text class="n" x="50.6" y="1084.1" font-size="21" text-anchor="end">2</text>
<text class="n" x="1420" y="1084.1" font-size="21">-5</text>
<text class="n" x="50.6" y="1136.3" font-size="21" text-anchor="end">1</text>
<text class="n" x="1420" y="1136.3" font-size="21">-10</text>
<text class="n" x="50.6" y="1188.5" font-size="21" text-anchor="end">0</text>
<text class="n" x="1420" y="1188.5" font-size="21">-15</text>
<text xml:space="preserve"><tspan class="c" x="155.60" y="683.6">杠杆率变化（</tspan><tspan class="q" x="280.82" y="683.1" textLength="10.44" lengthAdjust="spacingAndGlyphs">%</tspan><tspan class="c" x="291.25" y="683.6">：右轴）</tspan></text>
<text xml:space="preserve"><tspan class="c" x="156.60" y="720.2">金融机构人民币贷款加权平均利率（</tspan><tspan class="q" x="490.52" y="719.7" textLength="10.44" lengthAdjust="spacingAndGlyphs">%</tspan><tspan class="c" x="500.95" y="720.2">）</tspan></text>
<text xml:space="preserve"><tspan class="c" x="860.30" y="683.6">中债国债到期收益率</tspan><tspan class="g" x="1053.35" y="683.1" text-anchor="middle">:</tspan><tspan class="g" x="1058.86" y="683.1" textLength="9.84" lengthAdjust="spacingAndGlyphs">1</tspan><tspan class="g" x="1069.30" y="683.1" textLength="9.84" lengthAdjust="spacingAndGlyphs">0</tspan><tspan class="cr" x="1079.43" y="683.6">年</tspan><tspan class="g" x="1105.52" y="683.1" text-anchor="middle">:</tspan><tspan class="cr" x="1110.74" y="683.6">季</tspan><tspan class="c" x="1131.61" y="683.6">（</tspan><tspan class="q" x="1152.48" y="683.1" textLength="10.44" lengthAdjust="spacingAndGlyphs">%</tspan><tspan class="c" x="1162.91" y="683.6">）</tspan></text>
<text xml:space="preserve"><tspan class="c" x="860.30" y="720.2">人民币存款准备金率</tspan><tspan class="q" x="1048.13" y="719.7" textLength="10.44" lengthAdjust="spacingAndGlyphs">:</tspan><tspan class="c" x="1058.56" y="720.2">大型存款类金融机构</tspan><tspan class="q" x="1246.39" y="719.7" textLength="10.44" lengthAdjust="spacingAndGlyphs">:</tspan><tspan class="c" x="1256.83" y="720.2">季（</tspan><tspan class="q" x="1298.57" y="719.7" textLength="20.87" lengthAdjust="spacingAndGlyphs">% </tspan><tspan class="c" x="1319.44" y="720.2">右轴）</tspan></text>
<text><tspan class="p" font-size="35" x="173.9" y="1139.1" textLength="42" lengthAdjust="spacingAndGlyphs">（</tspan><tspan class="d" font-size="35" x="229.3" y="1139.8" text-anchor="middle">1</tspan><tspan class="p" font-size="35" x="244.1" y="1139.1" textLength="42" lengthAdjust="spacingAndGlyphs">）</tspan></text>
<text><tspan class="p" font-size="35" x="437.6" y="1139.1" textLength="42" lengthAdjust="spacingAndGlyphs">（</tspan><tspan class="d" font-size="35" x="493.0" y="1139.8" text-anchor="middle" textLength="21" lengthAdjust="spacingAndGlyphs">2</tspan><tspan class="p" font-size="35" x="507.8" y="1139.1" textLength="42" lengthAdjust="spacingAndGlyphs">）</tspan></text>
<text><tspan class="p" font-size="35" x="657.6" y="1139.1" textLength="42" lengthAdjust="spacingAndGlyphs">（</tspan><tspan class="d" font-size="35" x="713.0" y="1139.8" text-anchor="middle" textLength="21" lengthAdjust="spacingAndGlyphs">3</tspan><tspan class="p" font-size="35" x="727.8" y="1139.1" textLength="42" lengthAdjust="spacingAndGlyphs">）</tspan></text>
<text><tspan class="p" font-size="35" x="875.1" y="1139.1" textLength="42" lengthAdjust="spacingAndGlyphs">（</tspan><tspan class="d" font-size="35" x="930.5" y="1139.8" text-anchor="middle" textLength="21" lengthAdjust="spacingAndGlyphs">4</tspan><tspan class="p" font-size="35" x="945.3" y="1139.1" textLength="42" lengthAdjust="spacingAndGlyphs">）</tspan></text>
<text><tspan class="p" font-size="35" x="1106.6" y="1139.1" textLength="42" lengthAdjust="spacingAndGlyphs">（</tspan><tspan class="d" font-size="35" x="1162.0" y="1139.8" text-anchor="middle" textLength="21" lengthAdjust="spacingAndGlyphs">5</tspan><tspan class="p" font-size="35" x="1176.8" y="1139.1" textLength="42" lengthAdjust="spacingAndGlyphs">）</tspan></text>
<text><tspan class="p" font-size="35" x="1285.1" y="1139.1" textLength="42" lengthAdjust="spacingAndGlyphs">（</tspan><tspan class="d" font-size="35" x="1340.5" y="1139.8" text-anchor="middle" textLength="21" lengthAdjust="spacingAndGlyphs">6</tspan><tspan class="p" font-size="35" x="1355.3" y="1139.1" textLength="42" lengthAdjust="spacingAndGlyphs">）</tspan></text>
</svg></body></html>
